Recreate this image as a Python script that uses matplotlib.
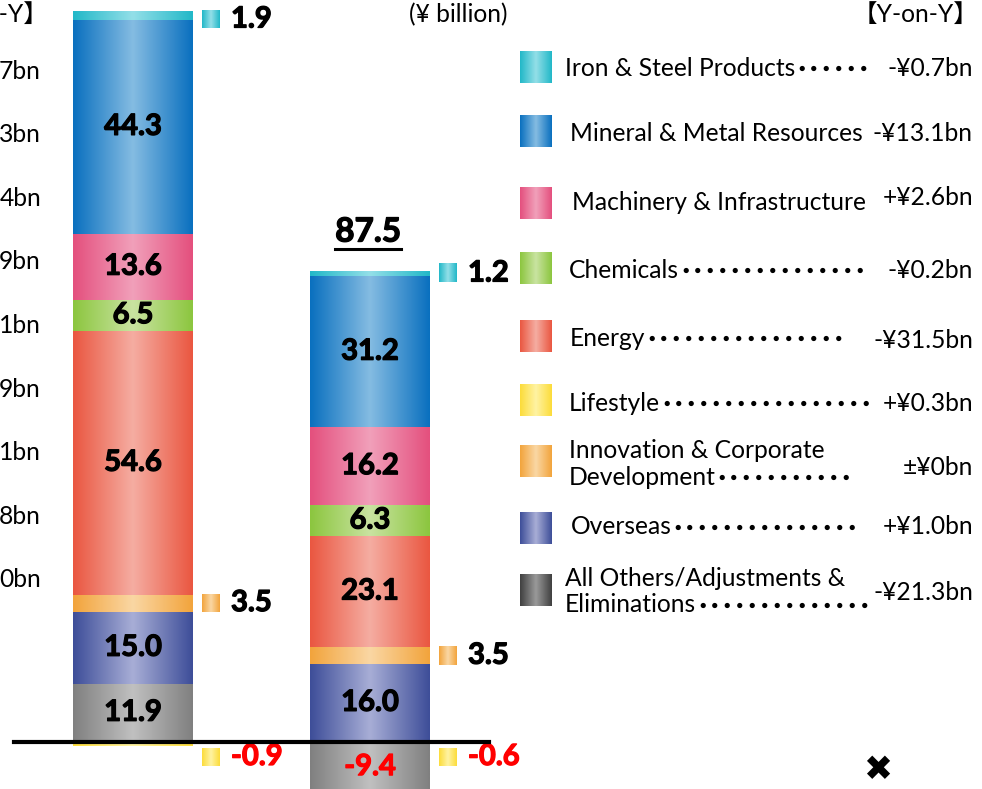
import numpy as np
import matplotlib
matplotlib.use("Agg")
import matplotlib.pyplot as plt
import matplotlib.patheffects as pe
from matplotlib.colors import to_rgb

# ---------------- data ----------------
segments = ["Iron & Steel Products", "Mineral & Metal Resources", "Machinery & Infrastructure",
            "Chemicals", "Energy", "Lifestyle", "Innovation & Corporate Development",
            "Overseas", "All Others/Adjustments & Eliminations"]
prev_values = [1.9, 44.3, 13.6, 6.5, 54.6, -0.9, 3.5, 15.0, 11.9]
curr_values = [1.2, 31.2, 16.2, 6.3, 23.1, -0.6, 3.5, 16.0, -9.4]
yoy_labels = ["-¥0.7bn", "-¥13.1bn", "+¥2.6bn", "-¥0.2bn", "-¥31.5bn",
              "+¥0.3bn", "±¥0bn", "+¥1.0bn", "-¥21.3bn"]
legend_lines = [["Iron & Steel Products"], ["Mineral & Metal Resources"],
                ["Machinery & Infrastructure"], ["Chemicals"], ["Energy"], ["Lifestyle"],
                ["Innovation & Corporate", "Development"], ["Overseas"],
                ["All Others/Adjustments &", "Eliminations"]]
leader_dots = [6, 0, 0, 15, 16, 17, 11, 15, 14]
cut_labels = ["7bn", "3bn", "4bn", "9bn", "1bn", "9bn", "1bn", "8bn", "0bn"]
small_segments = [0, 5, 6]          # labelled beside the bar
stack_order = [5, 8, 7, 6, 4, 3, 2, 1, 0]

# ---------------- style ----------------
edge_colors = ["#22b8c8", "#0a70bf", "#e4507e", "#8cc63f", "#ea5741",
               "#fcdc3a", "#f2a43c", "#3e4e99", "#808080"]
center_colors = ["#93dfe8", "#85bce2", "#f1a0ba", "#c9e3a1", "#f5ada2",
                 "#fff3a3", "#fad7a4", "#a8aed6", "#c0c0c0"]
legend_edge = list(edge_colors); legend_edge[8] = "#404040"
legend_center = list(center_colors); legend_center[8] = "#9a9a9a"

FONT = ["Lato", "Noto Sans CJK JP", "DejaVu Sans"]
plt.rcParams["font.family"] = FONT

W, H = 982, 789
PX_PER_UNIT = 4.83
ZERO_PX = 741.5
BAR_X = [133, 370]
BAR_W = 120
LBL_FS = 17.7
NUM_FS = 21
NUM_W = "bold"

fig = plt.figure(figsize=(W / 100, H / 100), dpi=100)
ax = fig.add_axes([0, 0, 1, 1])
ax.set_axis_off()
ov = fig.add_axes([0, 0, 1, 1])
ov.set_axis_off()
ov.set_xlim(0, W)
ov.set_ylim(H, 0)
ov.patch.set_alpha(0)


def grad(edge, center, n=96):
    t = np.abs(np.linspace(-1, 1, n))
    e = np.array(to_rgb(edge))
    c = np.array(to_rgb(center))
    return (c[None, :] * (1 - t[:, None]) + e[None, :] * t[:, None])[None, :, :]


def px2v(dpx):
    return dpx / PX_PER_UNIT


def heavy(col):
    return [pe.withStroke(linewidth=0.9, foreground=col)]


for bx, vals in zip(BAR_X, [prev_values, curr_values]):
    pos, neg = 0.0, 0.0
    for i in stack_order:
        v = vals[i]
        if v >= 0:
            bottom = pos
            pos += v
        else:
            bottom = neg
            neg += v
        bar = ax.bar(bx, v, bottom=bottom, width=BAR_W, color=edge_colors[i],
                     linewidth=0, zorder=2)[0]
        y0, y1 = sorted([bottom, bottom + v])
        im = ax.imshow(grad(edge_colors[i], center_colors[i]), aspect="auto",
                       extent=(bx - BAR_W / 2, bx + BAR_W / 2, y0, y1), zorder=2.1,
                       interpolation="bilinear")
        im.set_clip_path(bar)
        yc = bottom + v / 2
        col = "black" if v >= 0 else "#ff0000"
        if i in small_segments:
            if v < 0:
                yc = -px2v(15.5)
            else:
                yc = min(yc, ZERO_PX / PX_PER_UNIT - px2v(19.5))
            sx = bx + BAR_W / 2 + 9
            sh = px2v(18)
            ax.imshow(grad(edge_colors[i], center_colors[i]), aspect="auto",
                      extent=(sx, sx + 18, yc - sh / 2, yc + sh / 2), zorder=3,
                      interpolation="bilinear")
            ax.text(sx + 29, yc, f"{v:.1f}", ha="left", va="center", fontsize=NUM_FS,
                    fontweight=NUM_W, color=col, zorder=4, path_effects=heavy(col))
        else:
            ax.text(bx, yc, f"{v:.1f}", ha="center", va="center", fontsize=NUM_FS,
                    fontweight=NUM_W, color=col, zorder=4, path_effects=heavy(col))
    if bx == BAR_X[1]:
        total = sum(vals)
        ax.annotate(f"{total:.1f}", xy=(bx, pos), xytext=(-2, 24), textcoords="offset pixels",
                    ha="center", va="bottom", fontsize=24, fontweight=NUM_W, zorder=4,
                    path_effects=heavy("black"))

ax.axhline(0, xmin=14 / W, xmax=489 / W, color="black", linewidth=3, zorder=5)
ax.set_xlim(0, W)
ax.set_ylim(-(H - ZERO_PX) / PX_PER_UNIT, ZERO_PX / PX_PER_UNIT)

# underline of total
ov.plot([335, 401], [249, 249], color="black", linewidth=2.2)

# ---------------- legend ----------------
sq_top = [51, 115, 187, 252, 320, 384, 445, 512, 574]
txt_x = [565, 570, 572, 569, 570, 569, 569, 571, 565]
txt_y = [[68], [133], [202], [270], [338], [403], [450, 477], [527], [579, 605]]
val_y = [68, 133, 197, 270, 340, 403, 467, 527, 592]
for k in range(len(segments)):
    ov.imshow(grad(legend_edge[k], legend_center[k]), aspect="auto",
              extent=(520, 552, sq_top[k] + 32, sq_top[k]), interpolation="bilinear")
    last = None
    for line, yy in zip(legend_lines[k], txt_y[k]):
        last = ov.text(txt_x[k], yy, line, ha="left", va="center", fontsize=LBL_FS)
    if leader_dots[k]:
        ov.annotate("･" * leader_dots[k], xy=(1, 0.5), xycoords=last, xytext=(0, -2),
                    textcoords="offset pixels", ha="left", va="center", fontsize=18,
                    fontweight="black", family="Noto Sans CJK JP")
    ov.text(973, val_y[k], yoy_labels[k], ha="right", va="center", fontsize=LBL_FS)
ov.set_xlim(0, W)
ov.set_ylim(H, 0)

# ---------------- headers / cut-off texts ----------------
ov.text(458, 3, "(¥ billion)", ha="center", va="top", fontsize=LBL_FS)
ov.text(979, 3, "【Y-on-Y】", ha="right", va="top", fontsize=LBL_FS)
ov.text(48, 3, "n-Y】", ha="right", va="top", fontsize=LBL_FS)
for j, t in enumerate(cut_labels):
    ov.text(41, 71 + j * 63.6, t, ha="right", va="center", fontsize=LBL_FS)
ov.text(878, 770, "✖", ha="center", va="center", fontsize=25, family="DejaVu Sans")

fig.savefig("out.png", dpi=100)
